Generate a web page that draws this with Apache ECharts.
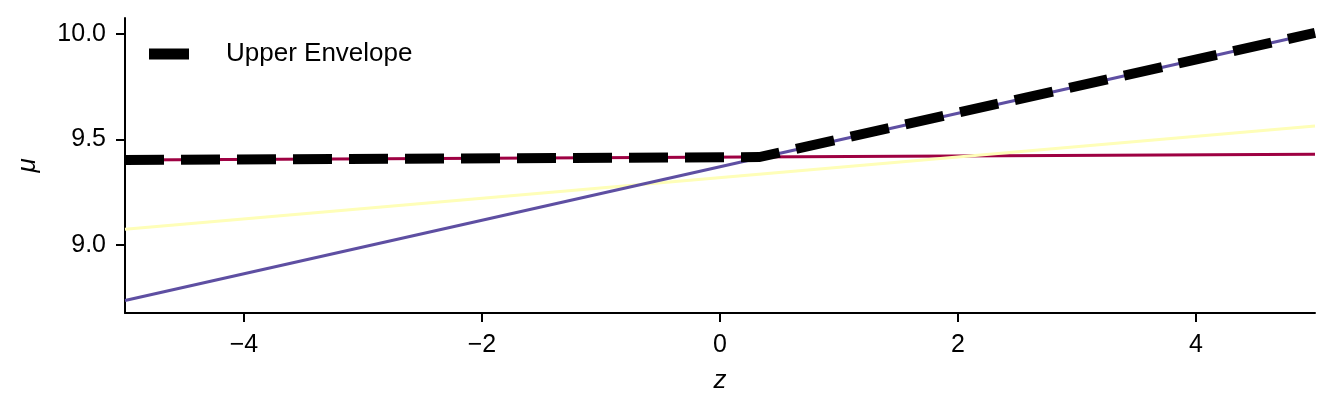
<!DOCTYPE html>
<html>
<head>
<meta charset="utf-8">
<script src="https://cdn.jsdelivr.net/npm/echarts@6/dist/echarts.min.js"></script>
<style>html,body{margin:0;padding:0;background:#fff}#c{width:1334px;height:411px}</style>
</head>
<body>
<div id="c"></div>
<script>
// Data
const zRange = [-5, 5];
const redLine = [9.402, 9.429];      // values at z = -5 and z = 5
const yellowLine = [9.074, 9.563];
const purpleLine = [8.735, 10.005];
const envelopeZ = [-5, 0.33, 5];
const envelopeMu = [9.402, 9.416, 10.005];
const xTicks = [-4, -2, 0, 2, 4];
const yTicks = [9.0, 9.5, 10.0];

const FONT = '"Liberation Sans", Arial, sans-serif';
const pair = (vals) => zRange.map((z, i) => [z, vals[i]]);
const minus = (s) => String(s).replace('-', '\u2212');

const chart = echarts.init(document.getElementById('c'), null, {renderer: 'canvas'});
chart.setOption({
  animation: false,
  backgroundColor: '#fff',
  grid: {left: 125, right: 19, top: 18, bottom: 98, containLabel: false},
  legend: {
    data: ['Upper Envelope'],
    left: 149, top: 41, padding: 0,
    icon: 'rect', itemWidth: 40, itemHeight: 11,
    textStyle: {fontFamily: FONT, fontSize: 26, color: '#000', padding: [0, 0, 0, 32]}
  },
  xAxis: {
    type: 'value', min: -5, max: 5,
    name: 'z', nameLocation: 'middle', nameGap: 55,
    nameTextStyle: {fontFamily: FONT, fontSize: 26, fontStyle: 'italic', color: '#000'},
    axisLine: {show: true, onZero: false, lineStyle: {color: '#000', width: 2}},
    axisTick: {show: true, length: 9, lineStyle: {color: '#000', width: 2}, customValues: xTicks},
    axisLabel: {fontFamily: FONT, fontSize: 25, color: '#000', margin: 20, customValues: xTicks,
      formatter: (v) => minus(v)},
    splitLine: {show: false}
  },
  yAxis: {
    type: 'value', min: 8.676, max: 10.076,
    name: '\u03bc', nameLocation: 'middle', nameGap: 84,
    nameTextStyle: {fontFamily: FONT, fontSize: 26, fontStyle: 'italic', color: '#000'},
    axisLine: {show: true, onZero: false, lineStyle: {color: '#000', width: 2}},
    axisTick: {show: true, length: 9, lineStyle: {color: '#000', width: 2}, customValues: yTicks},
    axisLabel: {fontFamily: FONT, fontSize: 25, color: '#000', margin: 19, customValues: yTicks,
      formatter: (v) => Number(v).toFixed(1)},
    splitLine: {show: false}
  },
  series: [
    {type: 'line', name: 'red', data: pair(redLine), showSymbol: false, symbol: 'none',
      lineStyle: {color: '#9e0142', width: 3}, z: 2},
    {type: 'line', name: 'yellow', data: pair(yellowLine), showSymbol: false, symbol: 'none',
      lineStyle: {color: '#fefeb8', width: 3}, z: 3},
    {type: 'line', name: 'purple', data: pair(purpleLine), showSymbol: false, symbol: 'none',
      lineStyle: {color: '#5e4fa2', width: 3}, z: 4},
    {type: 'line', name: 'Upper Envelope', data: envelopeZ.map((z, i) => [z, envelopeMu[i]]),
      showSymbol: false, symbol: 'none', clip: true,
      itemStyle: {color: '#000'},
      lineStyle: {color: '#000', width: 10, type: [39, 17], cap: 'butt', join: 'miter'}, z: 5}
  ]
});
</script>
</body>
</html>
